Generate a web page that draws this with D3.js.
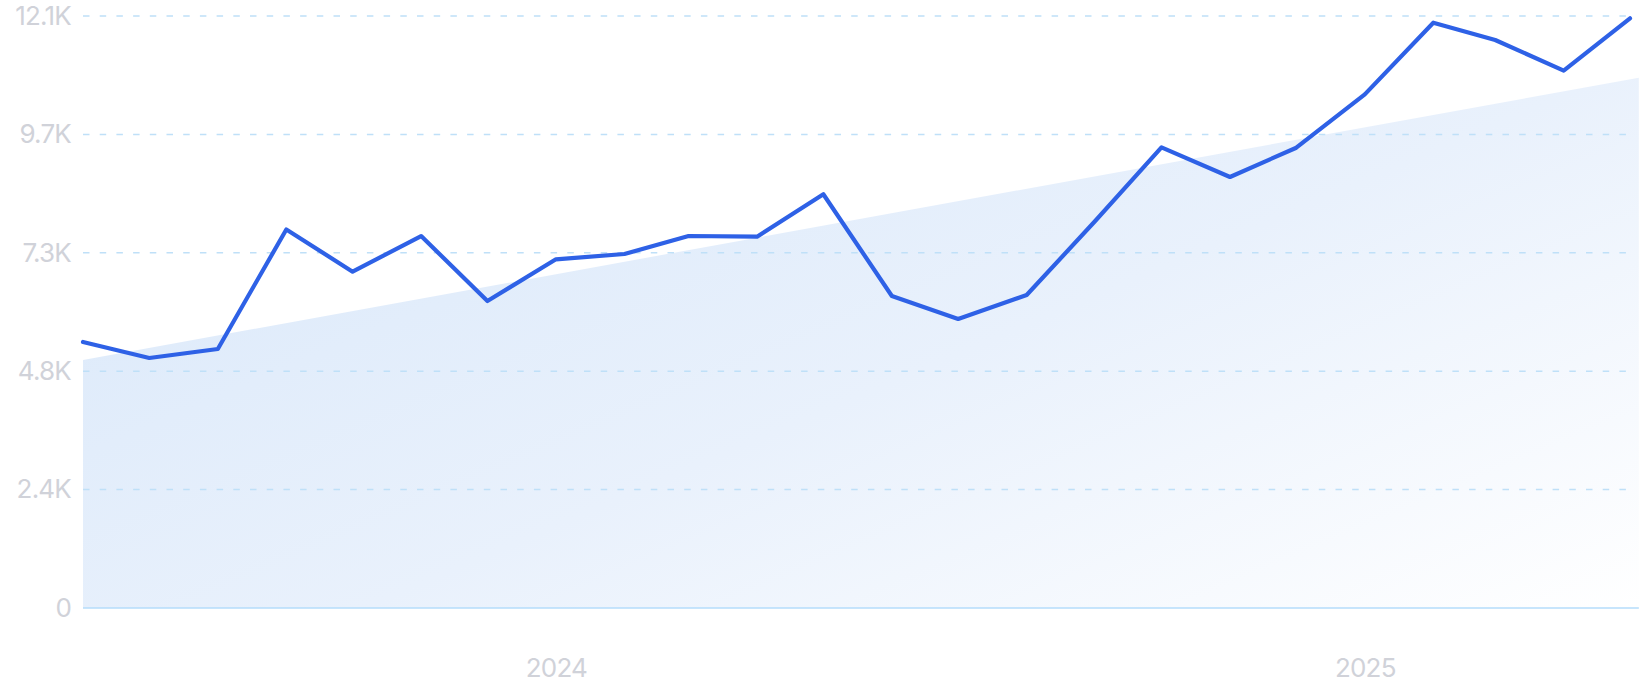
<!DOCTYPE html>
<meta charset="utf-8">
<script src="https://d3js.org/d3.v7.min.js"></script>
<head>
  <style>
  body {
    margin: 0;
    background: #fff;
    font-family: Inter, "Noto Sans", sans-serif;
  }
  .tick text {
    font-family: Inter, "Noto Sans", sans-serif;
    font-weight: 400;
    font-size: 26px;
    letter-spacing: -0.8px;
    fill: #d0d2d9;
  }
  </style>
</head>
<html><body>
<div id="my_dataviz"></div>

<script>

// monthly values
const months = ["2023-06","2023-07","2023-08","2023-09","2023-10","2023-11","2023-12",
  "2024-01","2024-02","2024-03","2024-04","2024-05","2024-06","2024-07","2024-08",
  "2024-09","2024-10","2024-11","2024-12","2025-01","2025-02","2025-03","2025-04","2025-05"];
const values = [5437, 5110, 5294, 7736, 6874, 7603, 6275,
  7127, 7235, 7603, 7589, 8456, 6377, 5907, 6397,
  7910, 9416, 8809, 9408, 10499, 11963, 11609, 10982, 12053];

// trend band (start / end)
const trendDates = ["2023-06-01", "2025-05-05"];
const trendValues = [5069, 10839];

// axis ticks
const yTicks = [0, 2420, 4840, 7260, 9680, 12100];
const xTicks = ["2024-01-01", "2025-01-01"];
const xTickLabels = ["2024", "2025"];

const W = 1643, H = 700;
const margin = {top: 16, right: 13, bottom: 92, left: 83};

const parseMonth = d3.timeParse("%Y-%m");
const parseDay = d3.timeParse("%Y-%m-%d");

const data = months.map(function(m, i) { return {date: parseMonth(m), value: values[i]}; });
const trend = trendDates.map(function(d, i) { return {date: parseDay(d), value: trendValues[i]}; });

const svg = d3.select("#my_dataviz")
  .append("svg")
    .attr("width", W)
    .attr("height", H);

const x = d3.scaleTime()
  .domain(d3.extent(data, function(d) { return d.date; }))
  .range([margin.left, 1630]);

const y = d3.scaleLinear()
  .domain([0, 12100])
  .range([H - margin.bottom, margin.top]);

// gradient for the trend band
const defs = svg.append("defs");
const grad = defs.append("linearGradient")
  .attr("id", "trendFill")
  .attr("x1", 0).attr("y1", 0.2)
  .attr("x2", 1).attr("y2", 1);
grad.append("stop").attr("offset", "0%").attr("stop-color", "#dbe9fa");
grad.append("stop").attr("offset", "50%").attr("stop-color", "#e9f1fc");
grad.append("stop").attr("offset", "100%").attr("stop-color", "#ffffff");

svg.append("path")
  .datum(trend)
  .attr("fill", "url(#trendFill)")
  .attr("d", d3.area()
    .x(function(d) { return x(d.date); })
    .y0(y(0))
    .y1(function(d) { return y(d.value); })
  );

// dashed grid
svg.append("g")
  .selectAll("line")
  .data(yTicks.filter(function(v) { return v > 0; }))
  .join("line")
    .attr("x1", x.range()[0])
    .attr("x2", x.range()[1])
    .attr("y1", function(d) { return y(d); })
    .attr("y2", function(d) { return y(d); })
    .attr("stroke", "#bfe0f8")
    .attr("stroke-width", 1.5)
    .attr("stroke-dasharray", "6.5,10.2");

// baseline
svg.append("line")
  .attr("x1", x.range()[0])
  .attr("x2", x(trend[1].date))
  .attr("y1", y(0))
  .attr("y2", y(0))
  .attr("stroke", "#b5dcfb")
  .attr("stroke-width", 1.5);

// Y axis labels
svg.append("g")
  .attr("transform", `translate(${margin.left}, 0)`)
  .call(d3.axisLeft(y)
    .tickValues(yTicks)
    .tickSize(0)
    .tickPadding(12)
    .tickFormat(function(v) { return v === 0 ? "0" : (v / 1000).toFixed(1) + "K"; }))
  .call(function(g) { g.select(".domain").remove(); });

// X axis labels
svg.append("g")
  .attr("transform", `translate(0, ${y(0)})`)
  .call(d3.axisBottom(x)
    .tickValues(xTicks.map(parseDay))
    .tickSize(0)
    .tickPadding(51)
    .tickFormat(function(d, i) { return xTickLabels[i]; }))
  .call(function(g) { g.select(".domain").remove(); });

// the line
svg.append("path")
  .datum(data)
  .attr("fill", "none")
  .attr("stroke", "#2e61e6")
  .attr("stroke-width", 4.2)
  .attr("stroke-linejoin", "round")
  .attr("stroke-linecap", "round")
  .attr("d", d3.line()
    .x(function(d) { return x(d.date); })
    .y(function(d) { return y(d.value); })
  );

</script>
</body></html>
